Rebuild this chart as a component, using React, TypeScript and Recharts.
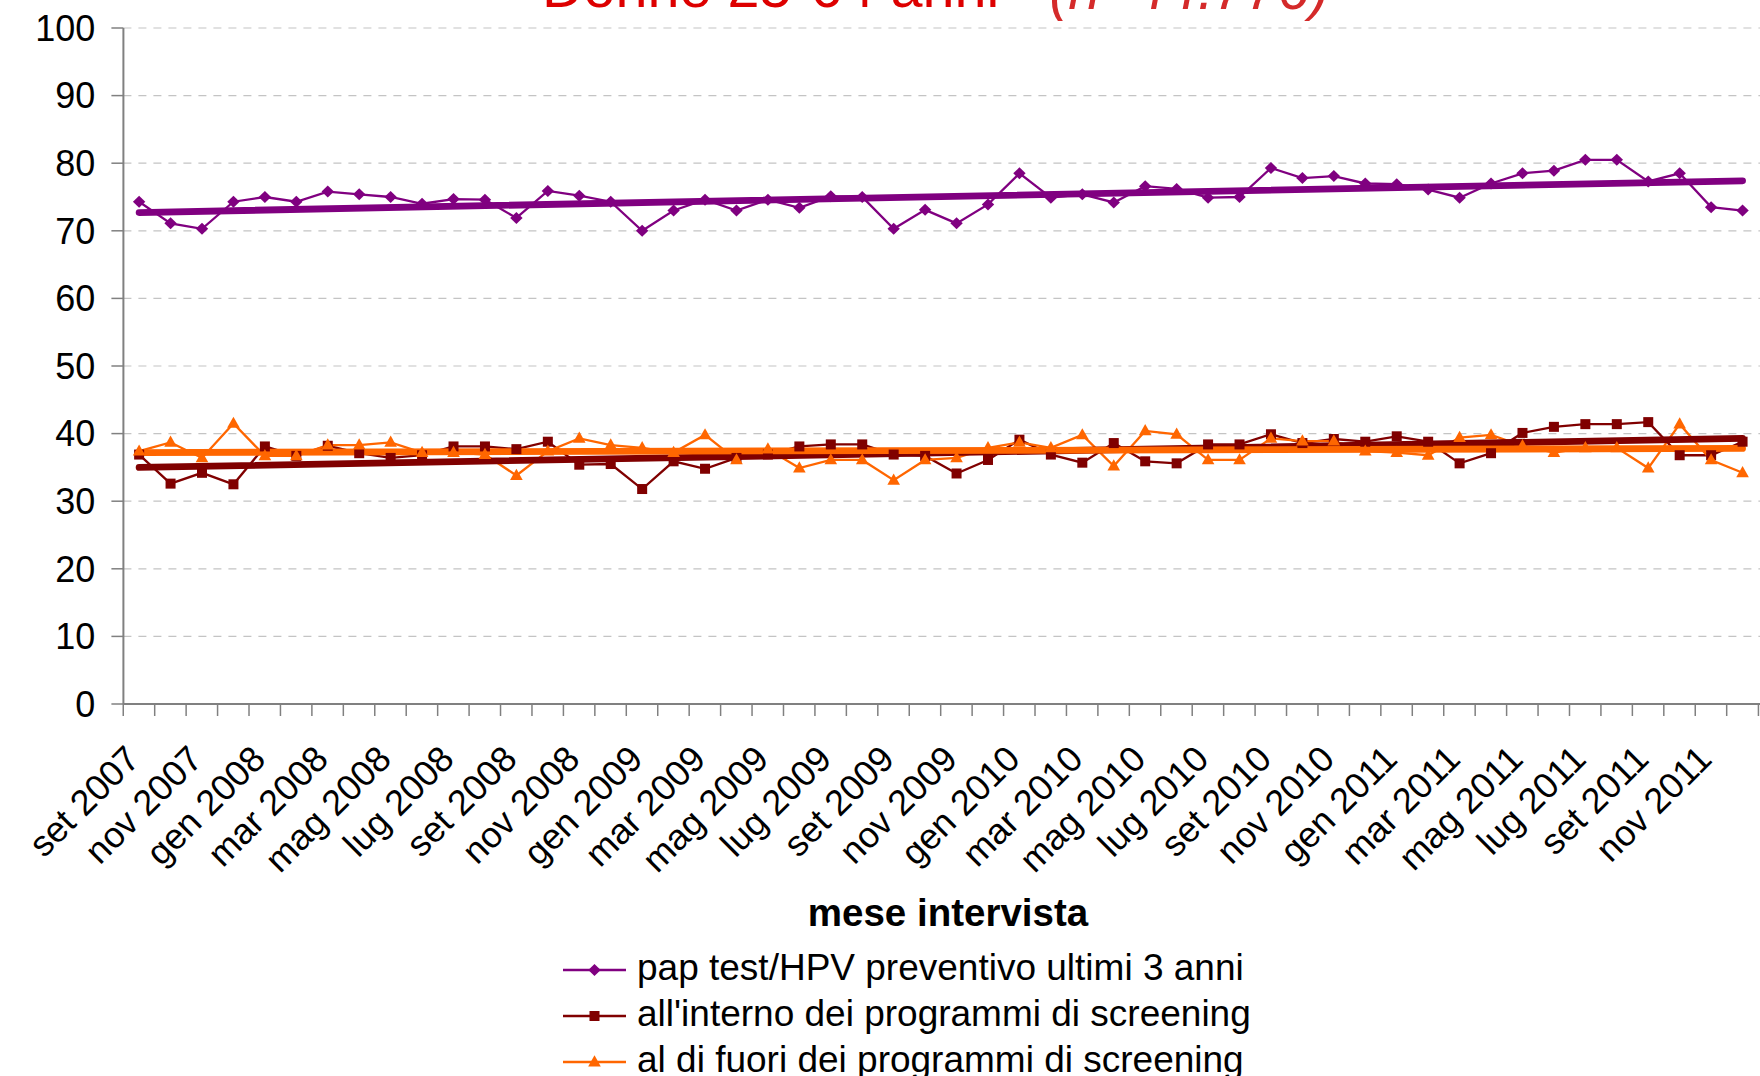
import React from 'react';
import { LineChart, Line, XAxis, YAxis, CartesianGrid } from 'recharts';

// ---------- data ----------
const months: string[] = [
  'set 2007', 'ott 2007', 'nov 2007', 'dic 2007',
  'gen 2008', 'feb 2008', 'mar 2008', 'apr 2008', 'mag 2008', 'giu 2008', 'lug 2008', 'ago 2008', 'set 2008', 'ott 2008', 'nov 2008', 'dic 2008',
  'gen 2009', 'feb 2009', 'mar 2009', 'apr 2009', 'mag 2009', 'giu 2009', 'lug 2009', 'ago 2009', 'set 2009', 'ott 2009', 'nov 2009', 'dic 2009',
  'gen 2010', 'feb 2010', 'mar 2010', 'apr 2010', 'mag 2010', 'giu 2010', 'lug 2010', 'ago 2010', 'set 2010', 'ott 2010', 'nov 2010', 'dic 2010',
  'gen 2011', 'feb 2011', 'mar 2011', 'apr 2011', 'mag 2011', 'giu 2011', 'lug 2011', 'ago 2011', 'set 2011', 'ott 2011', 'nov 2011', 'dic 2011',
];

const papTest: number[] = [
  74.3, 71.1, 70.3, 74.3, 75.0, 74.3, 75.8, 75.4, 75.0, 74.0, 74.7, 74.6, 71.9, 75.9, 75.2, 74.3,
  70.0, 73.0, 74.6, 73.0, 74.6, 73.4, 75.1, 75.0, 70.3, 73.1, 71.1, 73.9,
  78.5, 74.9, 75.4, 74.2, 76.6, 76.2, 74.9, 75.0, 79.3, 77.8, 78.1, 77.0,
  76.9, 76.1, 74.9, 77.0, 78.5, 78.9, 80.5, 80.5, 77.3, 78.5, 73.5, 73.0,
];

const interno: number[] = [
  36.9, 32.6, 34.2, 32.5, 38.1, 36.7, 38.2, 37.1, 36.4, 36.8, 38.1, 38.1, 37.7, 38.8, 35.4, 35.5,
  31.8, 35.9, 34.8, 36.4, 36.9, 38.1, 38.4, 38.4, 36.9, 36.7, 34.1, 36.1,
  39.1, 36.9, 35.7, 38.6, 35.9, 35.6, 38.4, 38.4, 39.9, 38.6, 39.2, 38.8,
  39.6, 38.8, 35.6, 37.1, 40.1, 41.0, 41.4, 41.4, 41.7, 36.8, 36.8, 38.8,
];

const fuori: number[] = [
  37.4, 38.7, 36.4, 41.5, 36.7, 36.7, 38.3, 38.3, 38.7, 37.2, 37.2, 36.9, 33.8, 37.4, 39.3, 38.3,
  37.9, 37.2, 39.8, 36.1, 37.7, 34.9, 36.1, 36.1, 33.1, 36.1, 36.4, 37.9,
  38.7, 37.9, 39.8, 35.2, 40.4, 39.9, 36.1, 36.1, 39.3, 38.9, 38.9, 37.4,
  37.2, 36.8, 39.4, 39.8, 38.2, 37.2, 37.9, 37.9, 34.9, 41.4, 36.1, 34.2,
];

// linear trend lines: values read at first and last month
const trendPap: number[] = [72.7, 77.4];
const trendInterno: number[] = [35.0, 39.3];
const trendFuori: number[] = [37.2, 37.8];

const yTicks: number[] = [0, 10, 20, 30, 40, 50, 60, 70, 80, 90, 100];

const seriesNames: string[] = [
  'pap test/HPV preventivo ultimi 3 anni',
  "all'interno dei programmi di screening",
  'al di fuori dei programmi di screening',
];

const titleMain = 'Donne 25-64 anni';
const titleN = '(n=44.776)';
const xTitle = 'mese intervista';

// ---------- styles ----------
const PURPLE = '#800080';
const DARKRED = '#800000';
const ORANGE = '#FF6600';
const AXIS = '#808080';
const FONT = '"Liberation Sans", Arial, Helvetica, sans-serif';

const CHART_W = 1800;
const CHART_H = 1076;
const MARGIN = { top: 28, right: 26, bottom: 0, left: 0 };
const Y_AXIS_W = 123.4;
const X_AXIS_H = 372;
const PLOT_LEFT = MARGIN.left + Y_AXIS_W;
const PLOT_RIGHT = CHART_W - MARGIN.right;
const PLOT_BOTTOM = CHART_H - MARGIN.bottom - X_AXIS_H;
const BAND = (PLOT_RIGHT - PLOT_LEFT) / months.length;

const last = months.length - 1;
const data = months.map((m, i) => ({
  i,
  month: m,
  pap: papTest[i],
  interno: interno[i],
  fuori: fuori[i],
  tPap: i === 0 ? trendPap[0] : i === last ? trendPap[1] : null,
  tInterno: i === 0 ? trendInterno[0] : i === last ? trendInterno[1] : null,
  tFuori: i === 0 ? trendFuori[0] : i === last ? trendFuori[1] : null,
}));

// ---------- markers ----------
const diamondPath = (cx: number, cy: number) => `M${cx},${cy - 6}L${cx + 6.2},${cy}L${cx},${cy + 6}L${cx - 6.2},${cy}Z`;
const trianglePath = (cx: number, cy: number) => `M${cx},${cy - 6.8}L${cx + 6.3},${cy + 4.4}L${cx - 6.3},${cy + 4.4}Z`;

const Diamond = (props: any) => {
  const { cx, cy, index } = props;
  if (cx == null || cy == null) return <g key={`pd-${index}`} />;
  return <path key={`pd-${index}`} d={diamondPath(cx, cy)} fill={PURPLE} />;
};
const Square = (props: any) => {
  const { cx, cy, index } = props;
  if (cx == null || cy == null) return <g key={`sq-${index}`} />;
  const r = 5;
  return <rect key={`sq-${index}`} x={cx - r} y={cy - r} width={2 * r} height={2 * r} fill={DARKRED} />;
};
const Triangle = (props: any) => {
  const { cx, cy, index } = props;
  if (cx == null || cy == null) return <g key={`tr-${index}`} />;
  return <path key={`tr-${index}`} d={trianglePath(cx, cy)} fill={ORANGE} />;
};

// ---------- x tick ----------
const XTick = (props: any) => {
  const { x, payload } = props;
  const i = payload.value as number;
  const half = BAND / 2;
  const ax = x + 2.5;
  const ay = PLOT_BOTTOM + 57;
  return (
    <g>
      <line x1={x - half} y1={PLOT_BOTTOM} x2={x - half} y2={PLOT_BOTTOM + 12} stroke={AXIS} strokeWidth={1.5} />
      {i === last && <line x1={x + half} y1={PLOT_BOTTOM} x2={x + half} y2={PLOT_BOTTOM + 12} stroke={AXIS} strokeWidth={1.5} />}
      {i % 2 === 0 && (
        <text x={ax} y={ay} textAnchor="end" transform={`rotate(-45, ${ax}, ${ay})`} fontSize={36} fontFamily={FONT} fill="#000">
          {months[i]}
        </text>
      )}
    </g>
  );
};

// ---------- legend ----------
const legendMarkers = [
  (cx: number, cy: number) => <path d={diamondPath(cx, cy)} fill={PURPLE} />,
  (cx: number, cy: number) => <rect x={cx - 5} y={cy - 5} width={10} height={10} fill={DARKRED} />,
  (cx: number, cy: number) => <path d={trianglePath(cx, cy)} fill={ORANGE} />,
];
const legendColors = [PURPLE, DARKRED, ORANGE];

export default function App() {
  return (
    <div style={{ position: 'fixed', left: 0, top: 0, width: 1760, height: 1076, overflow: 'hidden', background: '#fff' }}>
      <div style={{ position: 'absolute', left: 0, top: 0 }}>
        <LineChart width={CHART_W} height={CHART_H} data={data} margin={MARGIN}>
          <CartesianGrid horizontal vertical={false} stroke="#c4c4c4" strokeDasharray="8 7" strokeWidth={1.2} />
          <XAxis
            dataKey="i"
            type="number"
            domain={[-0.5, last + 0.5]}
            ticks={months.map((_, i) => i)}
            interval={0}
            height={X_AXIS_H}
            tickLine={false}
            axisLine={{ stroke: AXIS, strokeWidth: 2 }}
            tick={<XTick />}
            allowDecimals={false}
          />
          <YAxis
            type="number"
            domain={[0, 100]}
            ticks={yTicks}
            interval={0}
            width={Y_AXIS_W}
            tickSize={12}
            tickMargin={16}
            tickLine={{ stroke: AXIS, strokeWidth: 1.5 }}
            axisLine={{ stroke: AXIS, strokeWidth: 2 }}
            tick={{ fontSize: 36, fontFamily: FONT, fill: '#000' }}
          />
          <Line dataKey="pap" type="linear" stroke={PURPLE} strokeWidth={2.3} dot={<Diamond />} activeDot={false} isAnimationActive={false} />
          <Line dataKey="interno" type="linear" stroke={DARKRED} strokeWidth={2.3} dot={<Square />} activeDot={false} isAnimationActive={false} />
          <Line dataKey="fuori" type="linear" stroke={ORANGE} strokeWidth={2.3} dot={<Triangle />} activeDot={false} isAnimationActive={false} />
          <Line dataKey="tPap" type="linear" stroke={PURPLE} strokeWidth={6.8} strokeLinecap="round" connectNulls dot={false} activeDot={false} isAnimationActive={false} />
          <Line dataKey="tInterno" type="linear" stroke={DARKRED} strokeWidth={6.8} strokeLinecap="round" connectNulls dot={false} activeDot={false} isAnimationActive={false} />
          <Line dataKey="tFuori" type="linear" stroke={ORANGE} strokeWidth={6.8} strokeLinecap="round" connectNulls dot={false} activeDot={false} isAnimationActive={false} />
        </LineChart>
      </div>
      <svg width={1760} height={1076} style={{ position: 'absolute', left: 0, top: 0, pointerEvents: 'none' }}>
        <text x={542} y={7} fontSize={57.5} fontFamily={FONT} fill="#dd0000">
          {titleMain}
          <tspan dx={50} dy={2} fontStyle="italic" fill="#d42a2a">{titleN}</tspan>
        </text>
        <text x={948} y={926} textAnchor="middle" fontSize={38.5} fontWeight="bold" fontFamily={FONT} fill="#000">
          {xTitle}
        </text>
        {seriesNames.map((name, k) => {
          const base = 980 + k * 46;
          const ly = base - 10;
          return (
            <g key={name}>
              <line x1={563} y1={ly} x2={626} y2={ly} stroke={legendColors[k]} strokeWidth={2.3} />
              {legendMarkers[k](594.5, ly)}
              <text x={637} y={base} fontSize={37} fontFamily={FONT} fill="#000">{name}</text>
            </g>
          );
        })}
      </svg>
    </div>
  );
}
